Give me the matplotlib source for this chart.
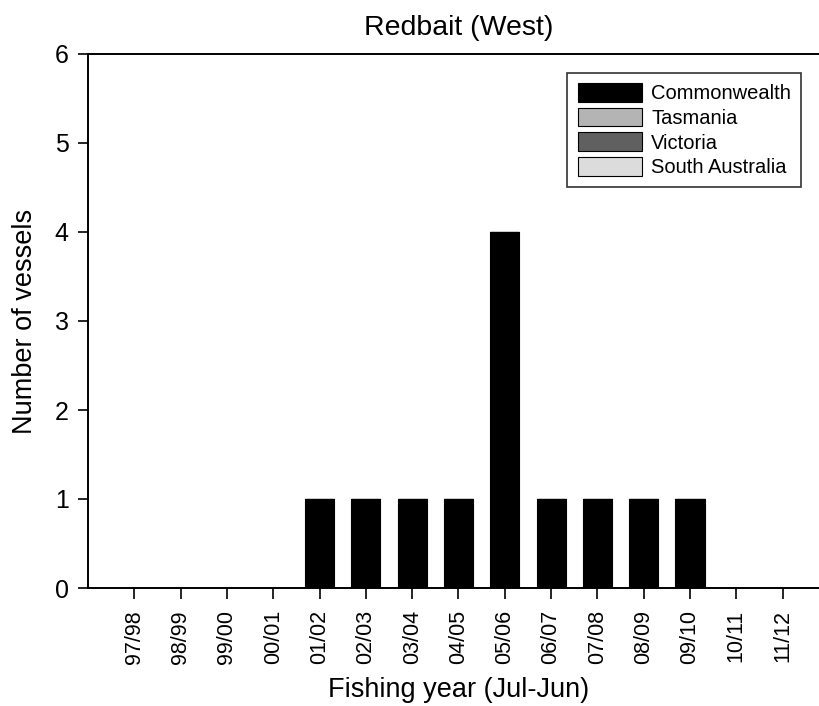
import matplotlib
matplotlib.use("Agg")
import matplotlib.pyplot as plt
import numpy as np

plt.rcParams['font.family'] = ['Liberation Sans', 'DejaVu Sans']

years = ["97/98", "98/99", "99/00", "00/01", "01/02", "02/03", "03/04", "04/05",
         "05/06", "06/07", "07/08", "08/09", "09/10", "10/11", "11/12"]
commonwealth = [0, 0, 0, 0, 1, 1, 1, 1, 4, 1, 1, 1, 1, 0, 0]
tasmania = [0] * 15
victoria = [0] * 15
south_australia = [0] * 15

series = [("Commonwealth", commonwealth, "#000000"),
          ("Tasmania", tasmania, "#b4b4b4"),
          ("Victoria", victoria, "#606060"),
          ("South Australia", south_australia, "#dcdcdc")]

fig = plt.figure(figsize=(8.2, 7.06), dpi=100)
ax = fig.add_axes([88/820, 118/706, 741/820, 534/706])

x = np.arange(len(years))
bottom = np.zeros(len(years))
for name, vals, col in series:
    vals = np.array(vals, dtype=float)
    ax.bar(x, vals, width=0.63, bottom=bottom, color=col, edgecolor="black",
           linewidth=0.8, label=name)
    bottom += vals

ax.set_xlim(-1, 15)
ax.set_ylim(0, 6)
ax.set_xticks(x)
ax.set_xticklabels(years, rotation=90, fontsize=15.5)
ax.set_yticks(range(7))
ax.tick_params(axis='y', labelsize=18, direction='out', length=7, width=1.2, pad=7)
ax.tick_params(axis='x', direction='out', length=8, width=1.2, pad=8)
for s in ax.spines.values():
    s.set_linewidth(1.4)

ax.set_title("Redbait (West)", fontsize=20.5, pad=14)
ax.set_xlabel("Fishing year (Jul-Jun)", fontsize=19.5, labelpad=9)
ax.set_ylabel("Number of vessels", fontsize=19.5, labelpad=12)

leg = ax.legend(loc="upper right", bbox_to_anchor=((801-88)/741, (633-118)/534),
                fontsize=14.5, frameon=True, fancybox=False, edgecolor="black",
                handlelength=3.2, handleheight=1.05, borderpad=0.5,
                labelspacing=0.22, handletextpad=0.45, borderaxespad=0)
leg.get_frame().set_linewidth(1.2)

fig.savefig("out.png", dpi=100)
